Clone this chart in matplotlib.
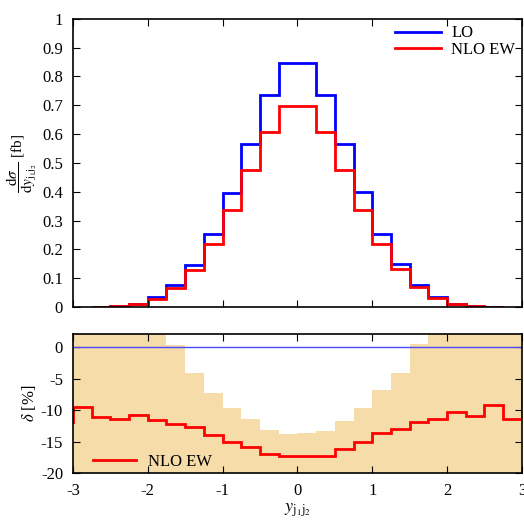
import numpy as np
import matplotlib
matplotlib.use("Agg")
import matplotlib.pyplot as plt

plt.rcParams['font.family'] = ['Liberation Serif', 'DejaVu Serif']
plt.rcParams['mathtext.fontset'] = 'stix'
plt.rcParams['axes.unicode_minus'] = False

# top panel: 22 bins from -2.75 to 2.75
edges_top = np.arange(-2.75, 2.76, 0.25)
lo = [0.001, 0.004, 0.012, 0.035, 0.075, 0.147, 0.254, 0.397, 0.567, 0.734, 0.847,
      0.847, 0.734, 0.567, 0.398, 0.255, 0.148, 0.076, 0.036, 0.012, 0.004, 0.001]
nlo_ew = [0.001, 0.003, 0.009, 0.027, 0.066, 0.128, 0.217, 0.337, 0.476, 0.609, 0.699,
          0.699, 0.609, 0.476, 0.338, 0.220, 0.131, 0.068, 0.030, 0.010, 0.003, 0.001]

# bottom panel: 24 bins from -3 to 3, plus one bin outside on each side
edges_bot = np.arange(-3.25, 3.26, 0.25)
delta_ew = [-11.8, -9.5, -11.0, -11.4, -10.7, -11.6, -12.1, -12.7, -13.9, -15.0, -15.8, -16.9, -17.3,
            -17.2, -17.2, -16.1, -15.1, -13.6, -12.9, -11.9, -11.4, -10.2, -10.9, -9.1, -11.4, -5.3]
band_edges = np.arange(-3, 3.01, 0.25)
band_top = [5, 5, 5, 5, 5, 0.4, -4.0, -7.2, -9.6, -11.3, -13.1, -13.7,
            -13.6, -13.3, -11.7, -9.6, -6.8, -4.0, 0.6, 5, 5, 5, 5, 5]

fig = plt.figure(figsize=(5.24, 5.23), dpi=100)
ax1 = fig.add_axes([0.139, 0.413, 0.857, 0.551])
ax2 = fig.add_axes([0.139, 0.095, 0.857, 0.266])

ax1.stairs(lo, edges_top, color='#0000ff', lw=2, label='LO')
ax1.stairs(nlo_ew, edges_top, color='#ff0000', lw=2, label='NLO EW')
ax1.set_xlim(-3, 3)
ax1.set_ylim(0, 1)
ax1.set_yticks(np.arange(0, 1.01, 0.1))
ax1.set_yticklabels(['0'] + ['%.1f' % v for v in np.arange(0.1, 0.95, 0.1)] + ['1'])
ax1.set_xticks(range(-3, 4))
ax1.tick_params(labelbottom=False)
ax1.set_ylabel(r'$\dfrac{\mathrm{d}\sigma}{\mathrm{d}y_{\mathrm{j_1 j_2}}}$ [fb]', fontsize=11, labelpad=2)
ax1.legend(loc='upper right', bbox_to_anchor=(1.0, 1.0), frameon=False, fontsize=12,
           handlelength=2.8, borderaxespad=0.0, labelspacing=0.05, handletextpad=0.6)

ax2.stairs(band_top, band_edges, baseline=-30, fill=True, color='#f5dca8', lw=0)
ax2.axhline(0, color='#4a4aff', lw=1)
ax2.stairs(delta_ew, edges_bot, color='#ff0000', lw=2, label='NLO EW')
ax2.set_xlim(-3, 3)
ax2.set_ylim(-20, 2.1)
ax2.set_yticks([0, -5, -10, -15, -20])
ax2.set_xticks(range(-3, 4))
ax2.set_ylabel(r'$\delta$ [%]', fontsize=12, labelpad=2)
ax2.set_xlabel(r'$y_{\mathrm{j_1 j_2}}$', fontsize=13, labelpad=2)
ax2.legend(loc='lower left', bbox_to_anchor=(0.011, -0.085), frameon=False, fontsize=12,
           handlelength=2.6, handletextpad=0.7)

for ax in (ax1, ax2):
    ax.tick_params(direction='in', top=True, right=True, labelsize=12, length=5, pad=7)
    for s in ax.spines.values():
        s.set_linewidth(1.2)

fig.savefig('out.png', dpi=100)
